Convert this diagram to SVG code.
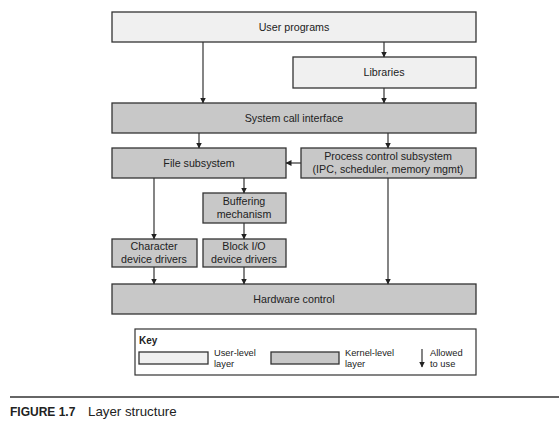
<svg xmlns="http://www.w3.org/2000/svg" width="559" height="431" viewBox="0 0 559 431">
<style>
.u{fill:#f0f0f0;stroke:#333;stroke-width:1.3}
.k{fill:#c8c8c8;stroke:#333;stroke-width:1.3}
.t{font-family:"Liberation Sans",Arial,sans-serif;font-size:10.7px;fill:#222;text-anchor:middle}
.s{font-family:"Liberation Sans",Arial,sans-serif;font-size:9.3px;fill:#222}
.c{stroke:#333;stroke-width:1.2;fill:none;marker-end:url(#ah)}
</style>
<defs>
<marker id="ah" markerWidth="6" markerHeight="6" refX="5.5" refY="3" orient="auto" markerUnits="userSpaceOnUse">
<path d="M0,0 L6,3 L0,6 Z" fill="#222"/>
</marker>
</defs>
<rect width="559" height="431" fill="#fff"/>
<g id="user-programs"><rect class="u" x="112" y="12" width="364" height="30"/><text class="t" x="294" y="31">User programs</text></g>
<g id="libraries"><rect class="u" x="293" y="57" width="183" height="31"/><text class="t" x="384" y="76">Libraries</text></g>
<g id="syscall"><rect class="k" x="112" y="103" width="364" height="30"/><text class="t" x="294" y="122">System call interface</text></g>
<g id="file-subsystem"><rect class="k" x="112" y="148" width="174" height="30"/><text class="t" x="199" y="167">File subsystem</text></g>
<g id="process-control"><rect class="k" x="301" y="148" width="175" height="30"/><text class="t" x="388" y="160">Process control subsystem</text><text class="t" x="388" y="173">(IPC, scheduler, memory mgmt)</text></g>
<g id="buffering"><rect class="k" x="203" y="193" width="83" height="30"/><text class="t" x="244" y="205">Buffering</text><text class="t" x="244" y="218">mechanism</text></g>
<g id="char-drivers"><rect class="k" x="112" y="239" width="85" height="28"/><text class="t" x="154" y="250">Character</text><text class="t" x="154" y="263">device drivers</text></g>
<g id="block-drivers"><rect class="k" x="203" y="239" width="83" height="28"/><text class="t" x="244" y="250">Block I/O</text><text class="t" x="244" y="263">device drivers</text></g>
<g id="hardware"><rect class="k" x="112" y="284" width="364" height="30"/><text class="t" x="294" y="303">Hardware control</text></g>
<g id="connectors">
<line class="c" x1="203" y1="42" x2="203" y2="103"/>
<line class="c" x1="384" y1="42" x2="384" y2="57"/>
<line class="c" x1="384" y1="88" x2="384" y2="103"/>
<line class="c" x1="199" y1="133" x2="199" y2="148"/>
<line class="c" x1="388" y1="133" x2="388" y2="148"/>
<line class="c" x1="301" y1="163" x2="286" y2="163"/>
<line class="c" x1="154" y1="178" x2="154" y2="239"/>
<line class="c" x1="244" y1="178" x2="244" y2="193"/>
<line class="c" x1="244" y1="223" x2="244" y2="239"/>
<line class="c" x1="154" y1="267" x2="154" y2="284"/>
<line class="c" x1="244" y1="267" x2="244" y2="284"/>
<line class="c" x1="388" y1="178" x2="388" y2="284"/>
</g>
<g id="key">
<rect x="135" y="329" width="341" height="46" fill="#fff" stroke="#333" stroke-width="1.2"/>
<text x="139" y="344" font-family="'Liberation Sans',Arial,sans-serif" font-size="10px" font-weight="bold" fill="#222">Key</text>
<rect class="u" x="139" y="352" width="69" height="12"/>
<text class="s" x="214" y="356">User-level</text>
<text class="s" x="214" y="367">layer</text>
<rect class="k" x="271" y="352" width="68" height="12"/>
<text class="s" x="345" y="356">Kernel-level</text>
<text class="s" x="345" y="367">layer</text>
<line class="c" x1="422" y1="349" x2="422" y2="367"/>
<text class="s" x="430" y="356">Allowed</text>
<text class="s" x="430" y="367">to use</text>
</g>
<line x1="10" y1="397" x2="559" y2="397" stroke="#333" stroke-width="1.3"/>
<text x="10" y="416" font-family="'Liberation Sans',Arial,sans-serif" font-size="12px" font-weight="bold" fill="#222">FIGURE 1.7</text>
<text x="88" y="416" font-family="'Liberation Sans',Arial,sans-serif" font-size="13.3px" fill="#222">Layer structure</text>
</svg>
